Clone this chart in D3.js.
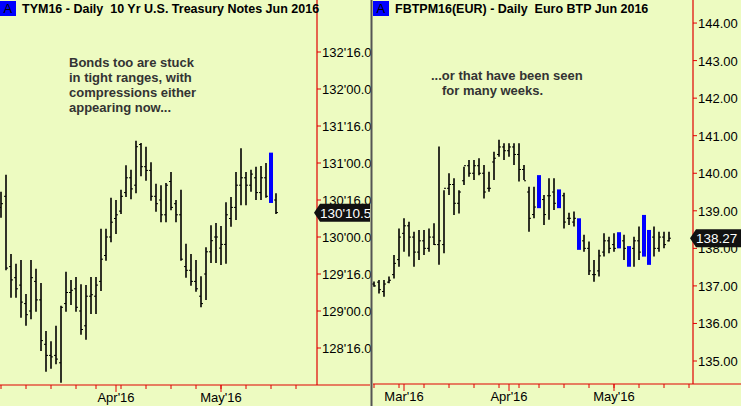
<!DOCTYPE html>
<html><head><meta charset="utf-8">
<script src="https://cdn.jsdelivr.net/npm/d3@7"></script>
<style>body{margin:0;background:#EDFBC1;}svg{display:block;}</style>
</head><body><svg id="c" width="741" height="406"></svg>
<script>
// Left panel: TYM16 (values in points, 1/32 fractions)
const tyHigh=[130.61,130.84,129.77,129.64,129.69,129.23,129.69,129.57,129.38,128.73,128.59,128.80,129.07,129.53,129.42,129.46,129.36,129.35,129.46,129.46,130.11,130.11,130.53,130.50,130.64,130.97,130.91,131.30,131.27,131.22,131.01,130.72,130.70,130.73,130.88,130.50,130.64,129.91,129.77,129.69,129.47,129.86,130.16,130.19,130.15,130.47,130.54,130.88,131.20,130.88,130.91,130.95,130.96,131.00,131.14,130.59];
const tyLow=[130.26,129.55,129.18,129.18,128.91,128.80,128.89,128.99,128.46,128.18,128.22,128.28,128.03,128.99,129.08,128.99,128.68,128.61,128.96,128.96,129.27,129.68,129.93,130.04,130.31,130.54,130.51,130.59,130.82,130.76,130.49,130.34,130.20,130.20,130.36,130.20,129.68,129.45,129.34,129.26,129.05,129.15,129.65,129.65,129.62,129.64,130.14,130.23,130.43,130.43,130.61,130.50,130.50,130.53,130.46,130.31];
const tyOpen=[130.40,130.55,129.60,129.45,129.35,129.10,129.00,129.40,129.15,128.55,128.40,128.40,128.30,129.10,129.25,129.30,129.00,128.80,129.20,129.20,129.40,129.75,130.00,130.25,130.35,130.60,130.80,130.70,131.25,130.95,130.90,130.55,130.50,130.30,130.75,130.45,130.30,129.60,129.55,129.40,129.20,129.50,129.80,130.00,129.85,129.90,130.25,130.40,130.70,130.80,130.70,130.80,130.60,130.80,130.50,130.50];
const tyClose=[130.45,129.58,129.42,129.30,129.12,128.95,129.45,129.15,128.60,128.40,128.38,128.35,129.05,129.25,129.28,129.05,128.75,129.20,129.22,129.35,129.70,130.00,130.20,130.30,130.55,130.80,130.65,131.22,130.95,130.90,130.55,130.45,130.30,130.70,130.40,130.30,129.70,129.55,129.40,129.30,129.10,129.80,129.95,130.00,129.90,130.30,130.40,130.70,130.80,130.70,130.85,130.60,130.80,130.55,130.50,130.33];
const tyBlue=[54];
const tyTicks=[128.5,129,129.5,130,130.5,131,131.5,132,132.5];
const tyWeekTicks=[0,5,10,15,19,24,29,34,39,44,49,54,59];
const tyMonths=[{i:23,label:"Apr'16"},{i:44,label:"May'16"}];
const tyLast=130+10.5/32;

// Right panel: FBTPM16
const btHigh=[137.12,137.16,137.16,137.25,137.82,138.53,138.80,138.71,138.44,138.49,138.49,138.53,138.67,140.71,139.55,140.00,139.87,139.55,140.17,140.35,140.35,140.40,140.22,140.04,140.57,140.89,140.80,140.80,140.80,140.80,140.22,139.64,139.64,139.95,139.42,139.87,139.87,139.57,139.48,138.95,138.98,138.80,138.36,138.18,137.69,137.96,138.40,138.31,138.40,138.43,138.36,138.06,138.31,138.58,138.89,138.49,138.58,138.44,138.44,138.44];
const btLow=[136.98,136.80,136.71,137.07,137.20,137.51,137.91,137.78,137.51,137.69,137.82,137.91,138.09,137.56,137.87,139.42,138.89,138.93,139.69,139.91,139.82,139.95,139.33,139.51,139.82,140.44,140.35,140.44,140.22,139.78,139.82,138.44,138.80,139.07,138.62,138.76,139.02,139.07,138.53,138.62,138.58,137.96,137.91,137.29,137.11,137.25,137.78,137.87,137.91,138.00,137.69,137.51,137.51,137.69,137.78,137.56,137.78,137.91,138.00,138.18];
const btOpen=[137.05,137.10,136.85,137.10,137.30,137.70,138.40,138.60,138.30,137.90,138.20,138.00,138.30,138.10,138.10,139.60,139.70,139.20,139.80,140.20,140.00,140.20,140.00,139.60,140.30,140.50,140.70,140.60,140.70,140.50,140.10,139.50,138.90,139.10,139.30,139.40,139.50,139.10,139.40,138.80,138.70,138.00,138.20,138.00,137.30,137.40,137.90,138.20,138.10,138.00,138.20,137.60,138.00,138.20,137.80,138.40,138.30,138.00,138.30,138.20];
const btClose=[137.00,136.90,137.05,137.15,137.60,138.30,138.60,138.30,137.90,138.20,138.00,138.30,138.10,138.20,139.60,139.70,139.20,139.50,140.20,140.00,140.20,140.00,139.50,139.60,140.40,140.70,140.60,140.70,140.50,140.10,139.80,138.80,139.10,139.30,138.90,139.40,139.20,139.40,138.70,138.80,138.80,138.20,138.00,137.40,137.30,137.80,138.20,138.00,138.00,138.30,138.00,137.90,138.20,137.90,138.40,138.10,138.00,138.30,138.10,138.27];
const btBlue=[33,37,41,49,51,54,55];
const btTicks=[135,136,137,138,139,140,141,142,143,144];
const btWeekTicks=[0,5,10,15,20,25,29,33,38,43,48,53,58,63];
const btMonths=[{i:6,label:"Mar'16"},{i:27,label:"Apr'16"},{i:48,label:"May'16"}];
const btLast=138.27;

const svg=d3.select("#c");
const RED="#E00000";
const F="Arial, 'Liberation Sans', sans-serif";
function fmt32(v){const w=Math.floor(v+1e-9);const f=(v-w)*32;return w+"'"+(f<10?"0":"")+f.toFixed(1);}

function panel(o){
  const g=svg.append("g");
  const x=d3.scaleLinear().domain([0,1]).range([o.x0,o.x0+o.step]);
  const y=d3.scaleLinear().domain(o.ydom).range(o.yrng);
  g.append("line").attr("x1",o.axisX).attr("x2",o.axisX).attr("y1",0).attr("y2",o.bottom).attr("stroke",RED).attr("stroke-width",1.2);
  g.append("line").attr("x1",o.left).attr("x2",o.right).attr("y1",o.bottom).attr("y2",o.bottom).attr("stroke",RED).attr("stroke-width",1.2);
  o.ticks.forEach(t=>{
    g.append("line").attr("x1",o.axisX).attr("x2",o.axisX+4).attr("y1",y(t)).attr("y2",y(t)).attr("stroke",RED);
    g.append("text").attr("x",o.axisX+5).attr("y",y(t)+5).attr("font-family",F).attr("font-size",13).attr("fill","#000").text(o.fmt(t));
  });
  o.week.forEach(i=>{ if(x(i)<o.axisX) g.append("line").attr("x1",x(i)).attr("x2",x(i)).attr("y1",o.bottom).attr("y2",o.bottom+4).attr("stroke",RED);});
  o.months.forEach(m=>{
    g.append("line").attr("x1",x(m.i)).attr("x2",x(m.i)).attr("y1",o.bottom).attr("y2",o.bottom+7).attr("stroke",RED);
    g.append("text").attr("x",x(m.i)).attr("y",o.bottom+17).attr("text-anchor","middle").attr("font-family",F).attr("font-size",13).attr("fill","#000").text(m.label);
  });
  o.hi.forEach((h,i)=>{
    const cx=x(i);
    if(o.blue.includes(i)){
      g.append("rect").attr("x",cx-2).attr("width",4).attr("y",y(h)).attr("height",y(o.lo[i])-y(h)).attr("fill","#0000FF");
    } else {
      g.append("line").attr("x1",cx).attr("x2",cx).attr("y1",y(h)).attr("y2",y(o.lo[i])).attr("stroke","#000").attr("stroke-width",1.6);
      g.append("line").attr("x1",cx-2).attr("x2",cx).attr("y1",y(o.op[i])).attr("y2",y(o.op[i])).attr("stroke","#000").attr("stroke-width",1);
      g.append("line").attr("x1",cx).attr("x2",cx+2).attr("y1",y(o.cl[i])).attr("y2",y(o.cl[i])).attr("stroke","#000").attr("stroke-width",1);
    }
  });
  const ly=y(o.last);
  const bx=o.axisX, bw=o.right-o.axisX;
  g.append("path").attr("d",`M${bx-3},${ly} L${bx+3},${ly-9} L${bx+bw},${ly-9} L${bx+bw},${ly+9} L${bx+3},${ly+9} Z`).attr("fill","#111");
  g.append("text").attr("x",bx+3).attr("y",ly+5).attr("font-family",F).attr("font-size",13.5).attr("fill","#fff").text(o.fmt(o.last,true));
  g.append("rect").attr("x",o.left).attr("y",1).attr("width",16).attr("height",15).attr("fill","#0000FF");
  g.append("text").attr("x",o.left+3.5).attr("y",13).attr("font-family",F).attr("font-size",13).attr("fill","#000").text("A");
  g.append("text").attr("x",o.left+22).attr("y",13).attr("font-family",F).attr("font-size",12.5).attr("font-weight","bold").attr("fill","#000").attr("xml:space","preserve").text(o.title);
  o.note.forEach(l=>{
    g.append("text").attr("x",l.x).attr("y",l.y).attr("font-family",F).attr("font-size",13).attr("font-weight","bold").attr("fill","#333").text(l.t);
  });
}

panel({x0:1,step:5,left:0,right:370,axisX:317,bottom:385,ydom:[128.5,132.5],yrng:[348,52],
  ticks:tyTicks,fmt:(v,last)=>last?"130'10.5":fmt32(v),week:tyWeekTicks,months:tyMonths,
  hi:tyHigh,lo:tyLow,op:tyOpen,cl:tyClose,blue:tyBlue,last:tyLast,
  title:"TYM16 - Daily  10 Yr U.S. Treasury Notes Jun 2016",
  note:[{x:69,y:67,t:"Bonds too are stuck"},{x:69,y:82,t:"in tight ranges, with"},{x:69,y:97,t:"compressions either"},{x:69,y:112,t:"appearing now..."}]});

panel({x0:374,step:5,left:373,right:741,axisX:693,bottom:384,ydom:[135,141],yrng:[361,135.7],
  ticks:btTicks,fmt:v=>v.toFixed(2),week:btWeekTicks,months:btMonths,
  hi:btHigh,lo:btLow,op:btOpen,cl:btClose,blue:btBlue,last:btLast,
  title:"FBTPM16(EUR) - Daily  Euro BTP Jun 2016",
  note:[{x:431,y:80,t:"...or that have been seen"},{x:442,y:95,t:"for many weeks."}]});

svg.append("rect").attr("x",370.5).attr("y",0).attr("width",2).attr("height",406).attr("fill","#555");
</script></body></html>
